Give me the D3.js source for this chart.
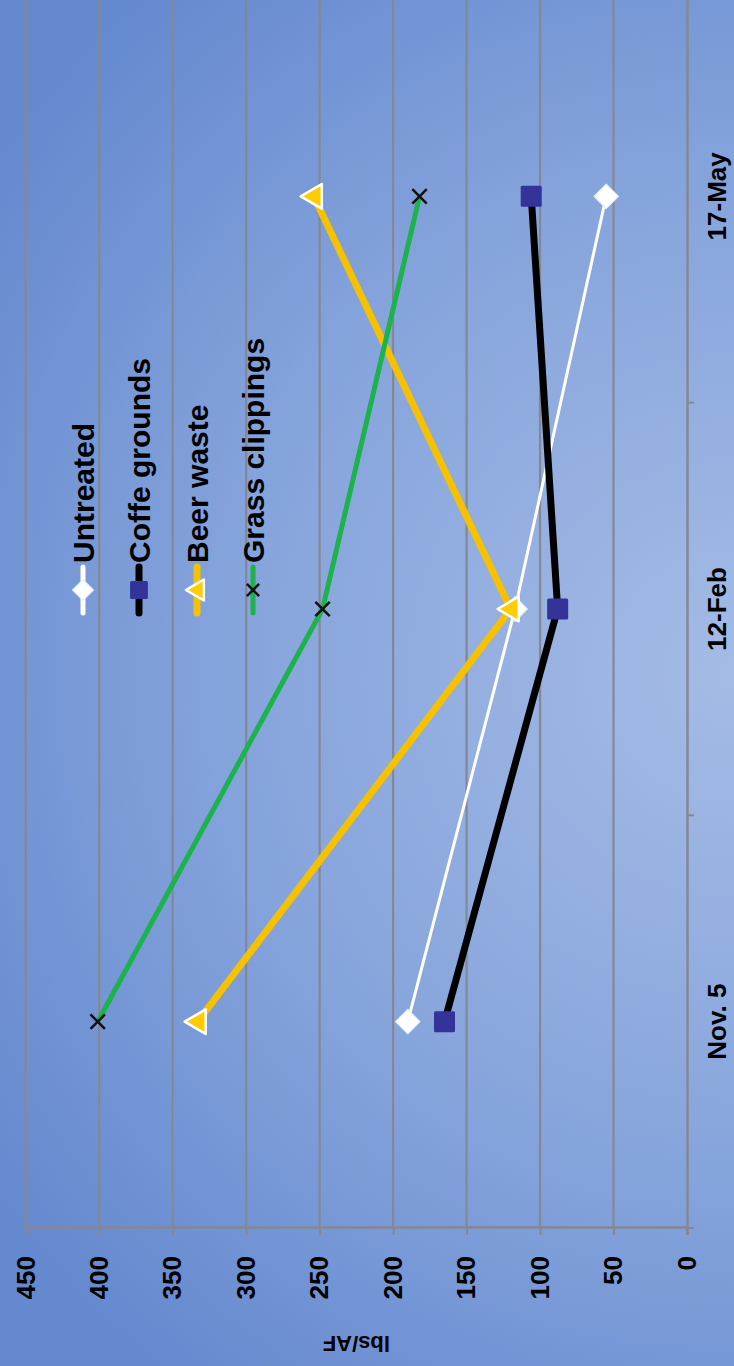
<!DOCTYPE html>
<html>
<head>
<meta charset="utf-8">
<script src="https://cdn.jsdelivr.net/npm/d3@7"></script>
<style>
  html, body { margin: 0; padding: 0; background: #7d9fd8; }
  svg { display: block; }
  text { font-family: "Liberation Sans", Arial, sans-serif; font-weight: bold; fill: #000; }
</style>
</head>
<body>
<svg id="chart" width="734" height="1366"></svg>
<script>
// Sampling dates along the category axis
const categories = ["Nov. 5", "12-Feb", "17-May"];

// lbs/AF measured for each treatment
const untreated = [190, 117, 55];
const coffeeGrounds = [165, 88, 106];
const beerWaste = [333, 120, 254];
const grassClippings = [401, 248, 182];

const seriesNames = ["Untreated", "Coffe grounds", "Beer waste", "Grass clippings"];
const yTicks = [0, 50, 100, 150, 200, 250, 300, 350, 400, 450];
const yTitle = "lbs/AF";

const series = [
  { name: seriesNames[0], values: untreated,      stroke: "#ffffff", width: 3, marker: "diamond" },
  { name: seriesNames[1], values: coffeeGrounds,  stroke: "#000000", width: 7, marker: "square" },
  { name: seriesNames[2], values: beerWaste,      stroke: "#f6c100", width: 7, marker: "triangle" },
  { name: seriesNames[3], values: grassClippings, stroke: "#1cb24c", width: 5, marker: "cross" }
];

const W = 1366, H = 734; // chart frame, shown turned a quarter-turn counter-clockwise
const svg = d3.select("#chart");

const defs = svg.append("defs");
const grad = defs.append("radialGradient")
  .attr("id", "bg").attr("gradientUnits", "userSpaceOnUse")
  .attr("cx", 690).attr("cy", 730).attr("r", 900);
grad.append("stop").attr("offset", "0").attr("stop-color", "#a4bbe5");
grad.append("stop").attr("offset", "0.55").attr("stop-color", "#86a4dc");
grad.append("stop").attr("offset", "1").attr("stop-color", "#6589cf");

const g = svg.append("g").attr("transform", `translate(0,${W}) rotate(-90)`);

g.append("rect").attr("x", 0).attr("y", 0).attr("width", W).attr("height", H)
  .attr("fill", "url(#bg)");

const x = d3.scaleBand().domain(categories).range([138, 1376]);
const y = d3.scaleLinear().domain([0, 450]).range([687, 25.7]);
const cx = c => x(c) + x.bandwidth() / 2;

const gridColor = "#848894";

// horizontal gridlines
g.append("g").selectAll("line").data(yTicks.filter(t => t > 0)).join("line")
  .attr("x1", x.range()[0]).attr("x2", x.range()[1])
  .attr("y1", d => y(d)).attr("y2", d => y(d))
  .attr("stroke", gridColor).attr("stroke-width", 2.2);

// value axis
const yAxis = g.append("g").attr("transform", `translate(${x.range()[0]},0)`)
  .call(d3.axisLeft(y).tickValues(yTicks).tickSize(7).tickPadding(21).tickFormat(d3.format("d")));
yAxis.select(".domain").attr("stroke", gridColor).attr("stroke-width", 2.5);
yAxis.selectAll(".tick line").attr("stroke", gridColor).attr("stroke-width", 2);
yAxis.selectAll(".tick text").attr("font-size", 26).attr("fill", "#000")
  .attr("font-family", "Liberation Sans, Arial, sans-serif").attr("font-weight", "bold");

// category axis
const xAxis = g.append("g").attr("transform", `translate(0,${y(0)})`)
  .call(d3.axisBottom(x).tickSize(0).tickPadding(21));
xAxis.select(".domain").attr("stroke", gridColor).attr("stroke-width", 2.5);
xAxis.selectAll(".tick text").attr("font-size", 26).attr("fill", "#000")
  .attr("font-family", "Liberation Sans, Arial, sans-serif").attr("font-weight", "bold");
const bounds = categories.map(c => x(c)).concat([x(categories[categories.length - 1]) + x.bandwidth()]);
xAxis.selectAll(".bound").data(bounds).join("line").attr("class", "bound")
  .attr("x1", d => d).attr("x2", d => d).attr("y1", 0).attr("y2", 7)
  .attr("stroke", gridColor).attr("stroke-width", 2);

// axis title
g.append("text")
  .attr("transform", `translate(30,${(y(0) + y(450)) / 2}) rotate(-90)`)
  .attr("text-anchor", "middle").attr("font-size", 22)
  .text(yTitle);

function drawMarker(sel, type, size) {
  if (type === "diamond") {
    const r = size * 0.68;
    sel.append("path").attr("d", `M0,${-r}L${r},0L0,${r}L${-r},0Z`)
      .attr("fill", "#ffffff").attr("stroke", "#e3ecf4").attr("stroke-width", 1.2)
      .attr("stroke-linejoin", "round");
  } else if (type === "square") {
    sel.append("rect").attr("x", -size / 2).attr("y", -size / 2)
      .attr("width", size).attr("height", size).attr("rx", 1.5)
      .attr("fill", "#33339a");
  } else if (type === "triangle") {
    const r = size * 0.62;
    sel.append("path")
      .attr("d", `M0,${-r} L${r * 0.95},${r * 0.62} L${-r * 0.95},${r * 0.62}Z`)
      .attr("fill", "#ffcc00").attr("stroke", "#ffffff").attr("stroke-width", 2.5)
      .attr("stroke-linejoin", "round");
  } else if (type === "cross") {
    const r = size * 0.36;
    sel.append("path").attr("d", `M${-r},${-r}L${r},${r}M${-r},${r}L${r},${-r}`)
      .attr("stroke", "#111111").attr("stroke-width", 2.5).attr("fill", "none");
  }
}

const markerSize = { diamond: 18, square: 21, triangle: 21, cross: 20 };

const line = d3.line().x(d => cx(d.c)).y(d => y(d.v));
series.forEach(s => {
  const pts = categories.map((c, i) => ({ c, v: s.values[i] }));
  const sg = g.append("g");
  sg.append("path").datum(pts).attr("d", line)
    .attr("fill", "none").attr("stroke", s.stroke).attr("stroke-width", s.width)
    .attr("stroke-linejoin", "round");
  sg.selectAll("g.pt").data(pts).join("g").attr("class", "pt")
    .attr("transform", d => `translate(${cx(d.c)},${y(d.v)})`)
    .each(function () { drawMarker(d3.select(this), s.marker, markerSize[s.marker]); });
});

// legend
const legendY = [83, 139, 197, 253];
const leg = g.append("g");
series.forEach((s, i) => {
  const lg = leg.append("g").attr("transform", `translate(776,${legendY[i]})`);
  lg.append("line").attr("x1", -23).attr("x2", 23).attr("y1", 0).attr("y2", 0)
    .attr("stroke", s.stroke).attr("stroke-width", Math.max(s.width, 5)).attr("stroke-linecap", "round");
  drawMarker(lg, s.marker, markerSize[s.marker] * 0.85);
  lg.append("text").attr("x", 27).attr("dy", "0.36em").attr("font-size", 30).text(s.name);
});
</script>
</body>
</html>
